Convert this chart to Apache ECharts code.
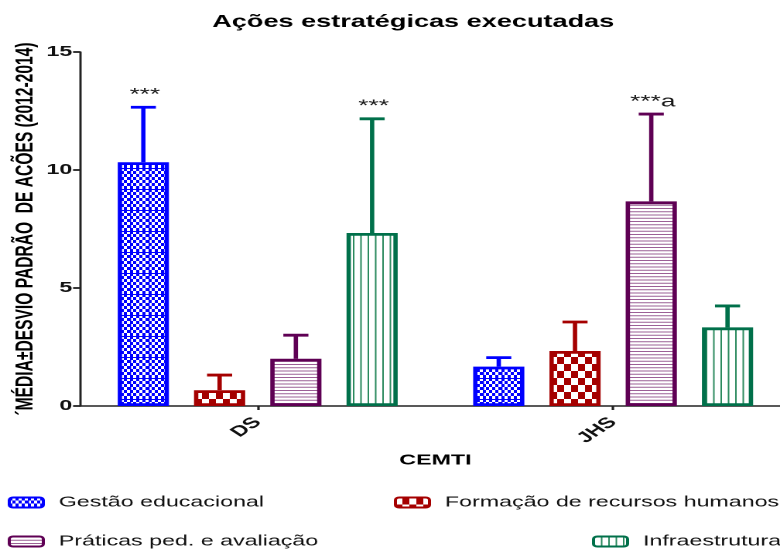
<!DOCTYPE html>
<html>
<head>
<meta charset="utf-8">
<script src="https://cdn.jsdelivr.net/npm/echarts@6/dist/echarts.min.js"></script>
<style>
  html, body { margin: 0; padding: 0; background: #fff; overflow: hidden; width: 780px; height: 549px; }
  /* the chart is laid out on a narrower stage and widened horizontally;
     the x axis runs a little past the right edge of the page */
  #stage { width: 511px; height: 549px; transform: scaleX(1.547619); transform-origin: 0 0; }
</style>
</head>
<body>
<div id="stage"></div>
<script>
// ---- data ----
const categories = ['DS', 'JHS'];
const seriesNames = ['Gestão educacional', 'Formação de recursos humanos', 'Práticas ped. e avaliação', 'Infraestrutura'];

const gestaoMean   = [10.33, 1.67];
const gestaoSD     = [2.33, 0.38];
const formacaoMean = [0.67, 2.33];
const formacaoSD   = [0.64, 1.23];
const praticasMean = [2.00, 8.67];
const praticasSD   = [1.00, 3.70];
const infraMean    = [7.33, 3.33];
const infraSD      = [4.84, 0.91];

// significance marks written above each error bar
const gestaoMarks   = ['***', ''];
const formacaoMarks = ['', ''];
const praticasMarks = ['', '***a'];
const infraMarks    = ['***', ''];

const yTicks = [0, 5, 10, 15];

const titleText = 'Ações estratégicas executadas';
const yAxisTitle = '´MÉDIA±DESVIO PADRÃO  DE ACÕES (2012-2014)';
const xAxisTitle = 'CEMTI';

// ---- styling ----
const FONT = '"Liberation Sans", Arial, sans-serif';
const colors = ['#0000ff', '#a50000', '#5f0054', '#00704a'];
const BAR_FRAC = 0.144;   // bar width as a share of the category band
const BAR_GAP = 0.49;     // gap between bars as a share of bar width
const CAP_FRAC = 0.245;   // half cap width as a share of bar width

// repeating fill tiles, drawn at 4x and scaled back down
const R = 4;
function tile(w, h, draw) {
  const c = document.createElement('canvas');
  c.width = Math.round(w * R);
  c.height = Math.round(h * R);
  const ctx = c.getContext('2d');
  ctx.scale(R, R);
  ctx.fillStyle = '#ffffff';
  ctx.fillRect(0, 0, w, h);
  draw(ctx, w, h);
  return { image: c, repeat: 'repeat', scaleX: 1 / R, scaleY: 1 / R };
}

// fine blue checkerboard with a light grid
const gestaoFill = tile(12, 21, (ctx, w, h) => {
  const cw = 2, ch = 3;
  ctx.fillStyle = colors[0];
  for (let i = 0; i < w / cw; i++) {
    for (let j = 0; j < h / ch; j++) {
      if ((i + j) % 2 === 0) ctx.fillRect(i * cw, j * ch, cw, ch);
    }
  }
  ctx.fillRect(0, 0, w, 1);
  ctx.fillRect(0, 0, 0.7, h);
});

// coarse red checkerboard
const formacaoFill = tile(9, 14, (ctx, w, h) => {
  ctx.fillStyle = colors[1];
  ctx.fillRect(0, 0, w, h);
  ctx.fillStyle = '#ffffff';
  ctx.fillRect(0, 0, w / 2, h / 2);
  ctx.fillRect(w / 2, h / 2, w / 2, h / 2);
});

// purple horizontal hatching
const praticasFill = tile(4, 3.25, (ctx, w, h) => {
  ctx.fillStyle = '#9c5f96';
  ctx.fillRect(0, 0, w, 1);
});

// green vertical hatching
const infraFill = tile(4.75, 4, (ctx, w, h) => {
  ctx.fillStyle = '#2b8a5e';
  ctx.fillRect(0, 0, 1, h);
});

const fills = [gestaoFill, formacaoFill, praticasFill, infraFill];
const means = [gestaoMean, formacaoMean, praticasMean, infraMean];
const sds = [gestaoSD, formacaoSD, praticasSD, infraSD];
const marks = [gestaoMarks, formacaoMarks, praticasMarks, infraMarks];

const chart = echarts.init(document.getElementById('stage'), null, { renderer: 'canvas', devicePixelRatio: 2 });

const barSeries = seriesNames.map((name, k) => ({
  type: 'bar',
  name: name,
  data: means[k],
  barWidth: (BAR_FRAC * 100) + '%',
  barGap: (BAR_GAP * 100) + '%',
  itemStyle: { color: fills[k], borderColor: colors[k], borderWidth: 2.8 },
  z: 2
}));

const errorSeries = seriesNames.map((name, k) => ({
  type: 'custom',
  name: name + ' (DP)',
  data: categories.map((c, i) => [i, means[k][i], sds[k][i]]),
  z: 3,
  renderItem: function (params, api) {
    const i = api.value(0);
    const mean = api.value(1);
    const sd = api.value(2);
    const base = api.coord([i, mean]);
    const top = api.coord([i, mean + sd]);
    const band = api.size([1, 0])[0];
    const barW = band * BAR_FRAC;
    const x = base[0] + (k - 1.5) * barW * (1 + BAR_GAP);
    const half = barW * CAP_FRAC;
    const style = { stroke: colors[k], lineWidth: 2.8 };
    const children = [
      { type: 'line', shape: { x1: x, y1: base[1], x2: x, y2: top[1] }, style: style },
      { type: 'line', shape: { x1: x - half, y1: top[1], x2: x + half, y2: top[1] }, style: style }
    ];
    const m = marks[k][i];
    if (m) {
      children.push({
        type: 'text',
        x: x + 1, y: top[1] - 4,
        style: { text: m, fill: '#1a1a1a', font: '17px ' + FONT, align: 'center', verticalAlign: 'bottom' }
      });
    }
    return { type: 'group', children: children };
  }
}));

const legendBase = {
  orient: 'horizontal',
  padding: 0,
  itemWidth: 22,
  itemHeight: 10,
  selectedMode: false,
  textStyle: { fontFamily: FONT, fontSize: 15, color: '#111', padding: [0, 0, 0, 5] }
};

chart.setOption({
  animation: false,
  backgroundColor: '#ffffff',
  grid: { left: 51.7, right: 0, top: 52, bottom: 143, outerBoundsMode: 'none' },
  graphic: [{
    type: 'text',
    x: 267, y: 13,
    style: { text: titleText, fill: '#000', font: 'bold 17.5px ' + FONT, align: 'center', verticalAlign: 'top' }
  }],
  legend: [
    Object.assign({}, legendBase, { data: [seriesNames[0]], left: 5, top: 495 }),
    Object.assign({}, legendBase, { data: [seriesNames[1]], left: 254.5, top: 495 }),
    Object.assign({}, legendBase, { data: [seriesNames[2]], left: 5, top: 534 }),
    Object.assign({}, legendBase, { data: [seriesNames[3]], left: 382.5, top: 534 })
  ],
  xAxis: {
    type: 'category',
    data: categories,
    name: xAxisTitle,
    nameLocation: 'middle',
    nameGap: 47,
    nameMoveOverlap: false,
    nameTextStyle: { fontFamily: FONT, fontWeight: 'bold', fontSize: 15, color: '#000' },
    axisLine: { show: true, lineStyle: { color: '#222', width: 1.6 } },
    axisTick: { show: true, alignWithLabel: true, length: 4, lineStyle: { color: '#222', width: 1.6 } },
    axisLabel: { rotate: 45, margin: 14, fontFamily: FONT, fontWeight: 'bold', fontSize: 15, color: '#111' },
    splitLine: { show: false }
  },
  yAxis: {
    type: 'value',
    min: yTicks[0],
    max: yTicks[yTicks.length - 1],
    interval: yTicks[1] - yTicks[0],
    name: yAxisTitle,
    nameLocation: 'middle',
    nameGap: 27,
    nameMoveOverlap: false,
    nameTextStyle: { fontFamily: FONT, fontWeight: 'bold', fontSize: 15.6, color: '#000' },
    axisLine: { show: true, lineStyle: { color: '#222', width: 1.5 } },
    axisTick: { show: true, length: 4.5, lineStyle: { color: '#222', width: 1.8 } },
    axisLabel: { margin: 5, fontFamily: FONT, fontWeight: 'bold', fontSize: 15, color: '#111' },
    splitLine: { show: false }
  },
  series: barSeries.concat(errorSeries)
});
</script>
</body>
</html>
